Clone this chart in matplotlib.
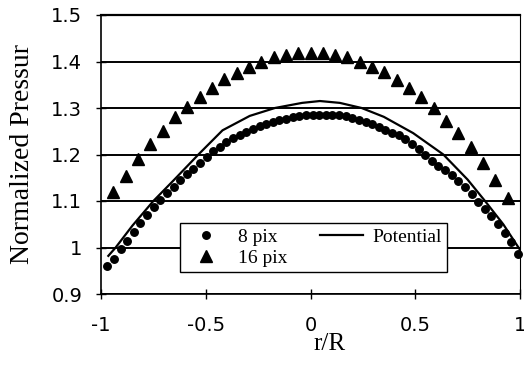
import numpy as np
import matplotlib.pyplot as plt

# 8 pix (circles), regular r grid
r8 = np.linspace(-0.97, 0.99, 63)
p8 = [0.960, 0.976, 0.996, 1.014, 1.033, 1.052, 1.070, 1.087, 1.102, 1.118,
      1.131, 1.145, 1.157, 1.169, 1.182, 1.195, 1.207, 1.217, 1.227, 1.235,
      1.242, 1.249, 1.255, 1.261, 1.266, 1.270, 1.274, 1.277, 1.280, 1.282,
      1.284, 1.285, 1.286, 1.286, 1.286, 1.285, 1.282, 1.279, 1.275, 1.270,
      1.265, 1.259, 1.253, 1.247, 1.241, 1.233, 1.222, 1.212, 1.199, 1.186,
      1.176, 1.166, 1.155, 1.143, 1.131, 1.116, 1.097, 1.083, 1.068, 1.051,
      1.031, 1.011, 0.986]

# 16 pix (triangles)
r16 = np.linspace(-16 / 17, 16 / 17, 33)
p16 = [1.120, 1.154, 1.190, 1.223, 1.251, 1.280, 1.303, 1.324, 1.344, 1.362,
       1.375, 1.389, 1.400, 1.409, 1.414, 1.419, 1.419, 1.419, 1.414, 1.409,
       1.400, 1.389, 1.378, 1.360, 1.342, 1.323, 1.299, 1.273, 1.247, 1.217,
       1.182, 1.145, 1.107]

# potential solution (solid line)
r_pot = [-0.965, -0.93, -0.85, -0.75, -0.65, -0.535, -0.42, -0.29, -0.17, -0.04,
         0.045, 0.14, 0.244, 0.35, 0.49, 0.634, 0.75, 0.833, 0.92, 1.0]
p_pot = [0.982, 1.0, 1.047, 1.1, 1.146, 1.2, 1.252, 1.283, 1.3, 1.311,
         1.315, 1.311, 1.3, 1.281, 1.246, 1.2, 1.146, 1.1, 1.05, 0.995]

xticks = [-1, -0.5, 0, 0.5, 1]
xticklabels = ["-1", "-0.5", "0", "0.5", "1"]
yticks = [0.9, 1.0, 1.1, 1.2, 1.3, 1.4, 1.5]
yticklabels = ["0.9", "1", "1.1", "1.2", "1.3", "1.4", "1.5"]

fig = plt.figure(figsize=(5.24, 3.65), dpi=100)
ax = fig.add_axes([101 / 524, 1 - 294 / 365, 419 / 524, 279 / 365])

ax.plot(r8, p8, "o", color="black", ms=5.4, label="8 pix", clip_on=False, zorder=3)
ax.plot(r16, p16, "^", color="black", ms=8, label="16 pix", clip_on=False, zorder=3)
ax.plot(r_pot, p_pot, "-", color="black", lw=1.6, label="Potential", zorder=3)

ax.set_xlim(-1, 1)
ax.set_ylim(0.9, 1.5)
ax.set_xticks(xticks)
ax.set_xticklabels(xticklabels, family="DejaVu Sans", fontsize=14)
ax.set_yticks(yticks)
ax.set_yticklabels(yticklabels, family="DejaVu Sans", fontsize=14)
ax.tick_params(axis="x", direction="inout", length=7, width=1, pad=12)
ax.tick_params(axis="y", direction="inout", length=7, width=1, pad=10)
ax.yaxis.grid(True, color="black", lw=1.4)
ax.set_axisbelow(True)
for s in ax.spines.values():
    s.set_color("black")
    s.set_linewidth(1.2)
ax.spines["top"].set_linewidth(1.6)
ax.spines["right"].set_linewidth(0.8)

fig.text(0.042, (1 - 154.5 / 365), "Normalized Pressur", rotation=90,
         family="Liberation Serif", fontsize=20, ha="center", va="center")
fig.text(330 / 524, 1 - 344 / 365, "r/R", family="Liberation Serif",
         fontsize=18, ha="center", va="center")

leg = ax.legend(ncol=2, loc="lower left", bbox_to_anchor=(0.189, 0.079, 0.637, 0.172),
                mode="expand", borderaxespad=0,
                prop={"family": "Liberation Serif", "size": 14},
                fancybox=False, framealpha=1, edgecolor="black", borderpad=0.25,
                handlelength=2.2, handletextpad=0.5, columnspacing=1.0,
                labelspacing=0.2)
leg.get_frame().set_linewidth(1.0)

fig.savefig("out.png", dpi=100)
